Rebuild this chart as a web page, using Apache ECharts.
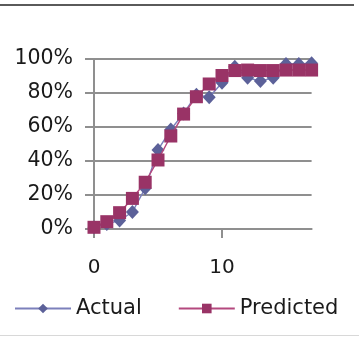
<!DOCTYPE html>
<html>
<head>
<meta charset="utf-8">
<script src="https://cdn.jsdelivr.net/npm/echarts@6/dist/echarts.min.js"></script>
<style>
html,body{margin:0;padding:0;background:#fff;}
#frame{position:absolute;left:0;top:0;width:359px;height:338px;}
#topline{position:absolute;left:0;top:4px;width:354px;height:2px;background:#5a5a5a;}
#bottomline{position:absolute;left:0;top:335px;width:359px;height:1px;background:#d8d8d8;}
#chart{position:absolute;left:0;top:0;width:359px;height:338px;}
</style>
</head>
<body>
<div id="frame">
<div id="chart"></div>
<div id="topline"></div>
<div id="bottomline"></div>
</div>
<script>
var xValues = [0,1,2,3,4,5,6,7,8,9,10,11,12,13,14,15,16,17];
var actual = [0.01,0.03,0.05,0.10,0.24,0.465,0.585,0.68,0.79,0.775,0.86,0.955,0.89,0.87,0.89,0.97,0.97,0.975];
var predicted = [0.01,0.043,0.096,0.18,0.275,0.406,0.547,0.676,0.778,0.853,0.903,0.932,0.935,0.932,0.932,0.935,0.935,0.935];
var yTicks = [0,0.2,0.4,0.6,0.8,1.0];
var xTickLabels = [0,10];

function pairs(vals){ return xValues.map(function(x,i){ return [x, vals[i]]; }); }

var font = 'DejaVu Sans';
var chart = echarts.init(document.getElementById('chart'), null, {renderer:'canvas'});
chart.setOption({
  animation:false,
  textStyle:{fontFamily:font},
  grid:{left:94, right:47.4, top:59, bottom:109, containLabel:false},
  xAxis:{
    type:'value', min:0, max:17, interval:10,
    axisLine:{show:true, lineStyle:{color:'#8f8f8f', width:2}},
    axisTick:{show:true, inside:false, length:9, customValues:xTickLabels, lineStyle:{color:'#8f8f8f', width:2}},
    axisLabel:{customValues:xTickLabels, margin:29, fontSize:20, color:'#1a1a1a', fontFamily:font},
    splitLine:{show:false}
  },
  yAxis:{
    type:'value', min:0, max:1, interval:0.2,
    axisLine:{show:true, onZero:false, lineStyle:{color:'#8f8f8f', width:2}},
    axisTick:{show:true, inside:false, length:9, lineStyle:{color:'#8f8f8f', width:2}},
    axisLabel:{margin:21, fontSize:20.5, color:'#1a1a1a', fontFamily:font,
      formatter:function(v){ return Math.round(v*100)+'%'; }},
    splitLine:{show:true, lineStyle:{color:'#8f8f8f', width:2}}
  },
  legend:{
    left:9, top:293, itemWidth:56, itemHeight:12, itemGap:36,
    textStyle:{fontSize:21, color:'#1a1a1a', fontFamily:font},
    data:['Actual','Predicted']
  },
  series:[
    {name:'Actual', type:'line', data:pairs(actual), symbol:'diamond', symbolSize:[13,14],
      itemStyle:{color:'#5c6199'}, lineStyle:{color:'#7c80bb', width:1.5}, z:2},
    {name:'Predicted', type:'line', data:pairs(predicted), symbol:'rect', symbolSize:13,
      itemStyle:{color:'#993366'}, lineStyle:{color:'#b4487e', width:1.5}, z:3}
  ]
});
</script>
</body>
</html>
